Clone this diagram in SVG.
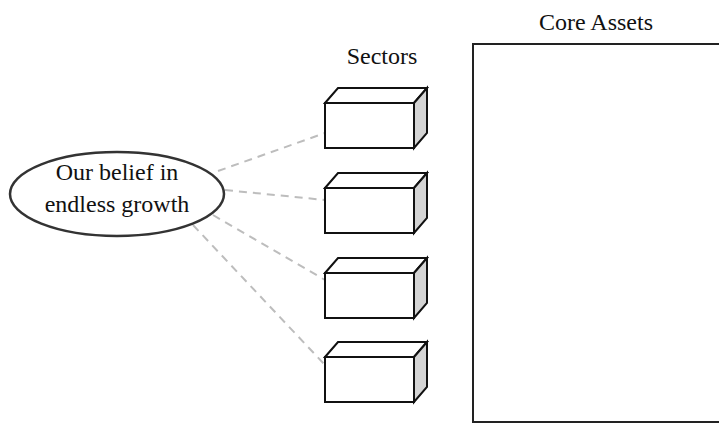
<svg xmlns="http://www.w3.org/2000/svg" width="719" height="424" viewBox="0 0 719 424">
<style>
.t{font-family:"Liberation Serif","Times New Roman",serif;font-size:24px;fill:#111;text-anchor:middle}
.front{fill:#fff;stroke:#111;stroke-width:2}
.top{fill:#fff;stroke:#111;stroke-width:2;stroke-linejoin:miter}
.side{fill:#d4d4d4;stroke:#111;stroke-width:2}
.conn{stroke:#bdbdbd;stroke-width:2;stroke-dasharray:8,6;fill:none}
</style>
<defs>
<g id="box">
<polygon class="top" points="0,0 13,-15 102,-15 89,0"/>
<polygon class="side" points="89,0 102,-15 102,30 89,45"/>
<rect class="front" x="0" y="0" width="89" height="45"/>
</g>
</defs>
<rect width="719" height="424" fill="#fff"/>
<g id="connectors">
<line class="conn" x1="218" y1="171" x2="325" y2="133"/>
<line class="conn" x1="225" y1="190" x2="325" y2="200"/>
<line class="conn" x1="213" y1="215" x2="325" y2="280"/>
<line class="conn" x1="193" y1="225" x2="325" y2="365"/>
</g>
<g id="belief">
<ellipse cx="117" cy="194" rx="107" ry="42" fill="#fff" stroke="#333" stroke-width="2.5"/>
<text class="t" x="117" y="180">Our belief in</text>
<text class="t" x="117" y="212">endless growth</text>
</g>
<g id="sectors-label"><text class="t" x="382" y="64">Sectors</text></g>
<g id="sector1"><use href="#box" x="325" y="103"/></g>
<g id="sector2"><use href="#box" x="325" y="188"/></g>
<g id="sector3"><use href="#box" x="325" y="273"/></g>
<g id="sector4"><use href="#box" x="325" y="357"/></g>
<g id="core-assets">
<text class="t" x="596" y="30">Core Assets</text>
<rect x="473" y="44" width="247" height="378" fill="#fff" stroke="#222" stroke-width="2"/>
</g>
</svg>
